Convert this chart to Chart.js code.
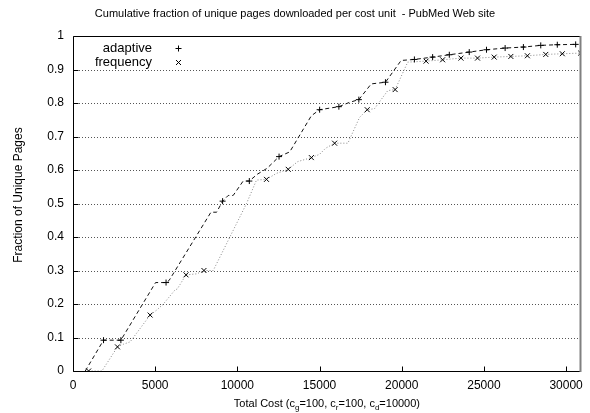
<!DOCTYPE html>
<html>
<head>
<meta charset="utf-8">
<script src="https://cdn.jsdelivr.net/npm/chart.js@4.4.1/dist/chart.umd.min.js"></script>
<style>
  html, body { margin: 0; padding: 0; background: #fff; }
  #wrap { width: 590px; height: 413px; }
</style>
</head>
<body>
<div id="wrap"><canvas id="c" width="590" height="413"></canvas></div>
<script>
// ---- Data ----
const chartTitle = "Cumulative fraction of unique pages downloaded per cost unit  - PubMed Web site";
const yAxisTitle = "Fraction of Unique Pages";
const seriesNames = ["adaptive", "frequency"];

const adaptiveCost = [746, 1857, 2913, 5024, 5662, 5843, 8392, 8738, 9102, 9442, 9745, 10352, 10728, 11202, 11808, 12537, 13186, 14503, 15006, 16177, 16826, 17391, 18143, 19011, 19964, 20771, 21881, 22895, 24108, 25158, 26292, 27403, 28459, 29466, 30583];
const adaptiveFrac = [0, 0.092, 0.092, 0.264, 0.264, 0.27, 0.474, 0.474, 0.507, 0.524, 0.524, 0.567, 0.567, 0.587, 0.605, 0.64, 0.654, 0.762, 0.78, 0.789, 0.802, 0.81, 0.857, 0.862, 0.927, 0.93, 0.937, 0.944, 0.952, 0.959, 0.964, 0.967, 0.972, 0.974, 0.975];
const adaptiveMarkIdx = [1, 2, 4, 8, 12, 15, 18, 19, 21, 23, 25, 26, 27, 28, 29, 30, 31, 32, 33, 34];

const frequencyCost = [950, 1760, 2706, 3070, 3477, 4691, 5097, 5498, 6208, 6347, 6875, 7524, 7967, 8532, 9545, 10558, 11165, 11772, 12379, 13095, 13671, 14503, 15006, 15370, 15917, 16724, 17434, 17901, 18344, 19151, 19600, 20365, 21481, 22488, 23605, 24612, 25626, 26639, 27646, 28763, 29770, 30887];
const frequencyFrac = [0, 0, 0.072, 0.08, 0.087, 0.167, 0.182, 0.2, 0.242, 0.245, 0.287, 0.29, 0.3, 0.3, 0.4, 0.5, 0.57, 0.572, 0.59, 0.602, 0.625, 0.637, 0.647, 0.665, 0.68, 0.68, 0.757, 0.78, 0.783, 0.837, 0.84, 0.922, 0.925, 0.929, 0.934, 0.934, 0.937, 0.939, 0.941, 0.945, 0.947, 0.949];
const frequencyMarkIdx = [0, 2, 5, 10, 12, 17, 19, 21, 24, 27, 30, 32, 33, 34, 35, 36, 37, 38, 39, 40, 41];

const xTickValues = [0, 5000, 10000, 15000, 20000, 25000, 30000];
const yTickValues = [0, 0.1, 0.2, 0.3, 0.4, 0.5, 0.6, 0.7, 0.8, 0.9, 1];
const xMin = 0, xMax = 30900, yMin = 0, yMax = 1;

// ---- Build chart ----
const FONT = "'Liberation Sans', Arial, Helvetica, sans-serif";
Chart.defaults.font.family = FONT;
Chart.defaults.font.size = 12;
Chart.defaults.color = '#000';

function pts(xs, ys) { return xs.map((x, i) => ({ x: x, y: ys[i] })); }
function radii(n, idx, r) { const a = new Array(n).fill(0); idx.forEach(i => a[i] = r); return a; }

const decor = {
  id: 'decor',
  beforeDatasetsDraw(chart) {
    const { ctx, chartArea: a, scales } = chart;
    ctx.save();
    ctx.strokeStyle = '#555';
    ctx.lineWidth = 1;
    ctx.setLineDash([1, 2]);
    yTickValues.forEach(v => {
      if (v === yMin || v === yMax) return;
      const y = Math.round(scales.y.getPixelForValue(v)) + 0.5;
      ctx.beginPath(); ctx.moveTo(a.left, y); ctx.lineTo(a.right, y); ctx.stroke();
    });
    ctx.restore();
  },
  afterDatasetsDraw(chart) {
    const { ctx, chartArea: a, scales } = chart;
    ctx.save();
    ctx.setLineDash([]);
    ctx.strokeStyle = '#000';
    ctx.lineWidth = 1;
    const L = Math.round(a.left) + 0.5, R = Math.round(a.right) - 0.5;
    const T = Math.round(a.top) + 0.5, B = Math.round(a.bottom) + 0.5;
    ctx.beginPath();
    ctx.moveTo(R, T); ctx.lineTo(L, T); ctx.lineTo(L, B); ctx.lineTo(R, B);
    ctx.stroke();
    ctx.strokeStyle = '#808080';
    ctx.lineWidth = 2;
    ctx.beginPath(); ctx.moveTo(R, T - 0.5); ctx.lineTo(R, B + 0.5); ctx.stroke();
    ctx.strokeStyle = '#000';
    ctx.lineWidth = 1;
    xTickValues.forEach(v => {
      const x = Math.round(scales.x.getPixelForValue(v)) + 0.5;
      ctx.beginPath(); ctx.moveTo(x, B); ctx.lineTo(x, B - 5); ctx.stroke();
    });
    yTickValues.forEach(v => {
      const y = Math.round(scales.y.getPixelForValue(v)) + 0.5;
      ctx.beginPath(); ctx.moveTo(L, y); ctx.lineTo(L + 5, y); ctx.stroke();
    });
    ctx.restore();
  },
  afterDraw(chart) {
    const { ctx, chartArea: a } = chart;
    ctx.save();
    ctx.fillStyle = '#000';
    ctx.textBaseline = 'middle';
    // title
    ctx.font = '11px ' + FONT;
    ctx.textAlign = 'center';
    ctx.fillText(chartTitle, 295, 14);
    // legend
    ctx.font = '13px ' + FONT;
    ctx.textAlign = 'right';
    ctx.fillText(seriesNames[0], 152, 48);
    ctx.fillText(seriesNames[1], 152, 62);
    ctx.strokeStyle = '#000';
    ctx.lineWidth = 1;
    ctx.beginPath();
    ctx.moveTo(175.5, 48.5); ctx.lineTo(181.5, 48.5);
    ctx.moveTo(178.5, 45.5); ctx.lineTo(178.5, 51.5);
    ctx.moveTo(176, 60); ctx.lineTo(181, 65);
    ctx.moveTo(181, 60); ctx.lineTo(176, 65);
    ctx.stroke();
    // y axis title
    ctx.font = '12px ' + FONT;
    ctx.save();
    ctx.translate(19, 195);
    ctx.rotate(-Math.PI / 2);
    ctx.textAlign = 'center';
    ctx.fillText(yAxisTitle, 0, 0);
    ctx.restore();
    // x axis title with subscripts
    const parts = [
      ['Total Cost (c', false], ['g', true], ['=100, c', false], ['r', true],
      ['=100, c', false], ['d', true], ['=10000)', false]
    ];
    const mainF = '11px ' + FONT, subF = '8px ' + FONT;
    let w = 0;
    parts.forEach(p => { ctx.font = p[1] ? subF : mainF; w += ctx.measureText(p[0]).width; });
    let x = (a.left + a.right) / 2 - w / 2;
    ctx.textAlign = 'left';
    ctx.textBaseline = 'alphabetic';
    parts.forEach(p => {
      ctx.font = p[1] ? subF : mainF;
      ctx.fillText(p[0], x, p[1] ? 410 : 407);
      x += ctx.measureText(p[0]).width;
    });
    ctx.restore();
  }
};

new Chart(document.getElementById('c'), {
  type: 'scatter',
  data: {
    datasets: [
      {
        label: seriesNames[0],
        data: pts(adaptiveCost, adaptiveFrac),
        showLine: true,
        borderColor: '#111',
        borderWidth: 1,
        borderDash: [4, 3],
        pointStyle: 'cross',
        pointRadius: radii(adaptiveCost.length, adaptiveMarkIdx, 3),
        pointBorderColor: '#000',
        pointBorderWidth: 1,
        pointHoverRadius: 0,
        tension: 0,
        fill: false
      },
      {
        label: seriesNames[1],
        data: pts(frequencyCost, frequencyFrac),
        showLine: true,
        borderColor: '#888',
        borderWidth: 1,
        borderDash: [1, 2],
        pointStyle: 'crossRot',
        pointRadius: radii(frequencyCost.length, frequencyMarkIdx, 3.5),
        pointBorderColor: '#000',
        pointBorderWidth: 1,
        pointHoverRadius: 0,
        tension: 0,
        fill: false
      }
    ]
  },
  options: {
    responsive: false,
    animation: false,
    events: [],
    layout: { padding: { left: 0, right: 8, top: 36, bottom: 0 } },
    plugins: { legend: { display: false }, title: { display: false }, tooltip: { enabled: false } },
    scales: {
      x: {
        type: 'linear', min: xMin, max: xMax,
        grid: { display: false, drawTicks: false },
        border: { display: false },
        afterFit(s) { s.height = 42; },
        afterBuildTicks(s) { s.ticks = xTickValues.map(v => ({ value: v })); },
        ticks: { autoSkip: false, maxRotation: 0, padding: 7, color: '#000', font: { size: 12 }, callback: v => String(v) }
      },
      y: {
        type: 'linear', min: yMin, max: yMax,
        grid: { display: false, drawTicks: false },
        border: { display: false },
        afterFit(s) { s.width = 73; },
        afterBuildTicks(s) { s.ticks = yTickValues.map(v => ({ value: v })); },
        ticks: { padding: 9, color: '#000', font: { size: 12 }, callback: v => String(Number(v.toFixed(1))) }
      }
    }
  },
  plugins: [decor]
});
</script>
</body>
</html>
